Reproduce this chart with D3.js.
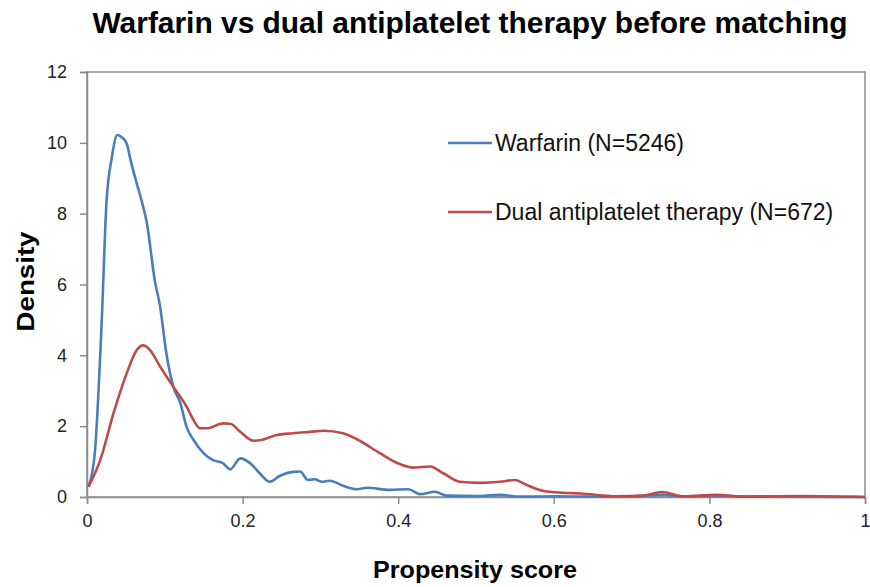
<!DOCTYPE html>
<html lang="en">
<head>
<meta charset="UTF-8">
<title>Warfarin vs dual antiplatelet therapy before matching</title>
<script src="https://cdn.jsdelivr.net/npm/d3@7"></script>
<style>
  html, body { margin: 0; padding: 0; background: #fff; }
  svg { display: block; font-family: Arial, "Liberation Sans", sans-serif; }
</style>
</head>
<body>
<svg id="chart" width="870" height="587"></svg>
<script>
// propensity score (x) for each series
const warfarinX = [0.002, 0.010, 0.019, 0.025, 0.032, 0.039, 0.045, 0.051, 0.057, 0.064, 0.070, 0.077, 0.087, 0.094,
  0.102, 0.111, 0.120, 0.128, 0.137, 0.150, 0.162, 0.175, 0.184, 0.197, 0.210, 0.222, 0.235, 0.248, 0.265, 0.274,
  0.284, 0.293, 0.302, 0.312, 0.330, 0.347, 0.360, 0.389, 0.413, 0.428, 0.447, 0.462, 0.505, 0.531, 0.557, 0.600,
  0.650, 0.700, 0.740, 0.770, 0.810, 0.850, 0.900, 1.000];
const warfarinY = [0.29, 1.23, 5.0, 8.3, 9.6, 10.22, 10.15, 9.98, 9.42, 8.85, 8.38, 7.73, 6.13, 5.37,
  4.06, 3.11, 2.65, 1.98, 1.61, 1.23, 1.04, 0.95, 0.78, 1.09, 0.95, 0.67, 0.43, 0.60, 0.71, 0.72,
  0.48, 0.50, 0.43, 0.46, 0.31, 0.22, 0.26, 0.20, 0.22, 0.08, 0.15, 0.04, 0.03, 0.06, 0.01, 0.02,
  0.01, 0.01, 0.06, 0.01, 0.04, 0.01, 0.01, 0.0];

const dualX = [0.002, 0.017, 0.034, 0.051, 0.064, 0.072, 0.081, 0.094, 0.111, 0.128, 0.137, 0.145, 0.154, 0.175,
  0.185, 0.197, 0.214, 0.222, 0.244, 0.265, 0.287, 0.304, 0.329, 0.347, 0.377, 0.402, 0.419, 0.441, 0.458,
  0.479, 0.505, 0.531, 0.550, 0.565, 0.587, 0.612, 0.634, 0.681, 0.717, 0.739, 0.767, 0.809, 0.843, 0.917, 1.000];
const dualY = [0.29, 1.04, 2.36, 3.49, 4.15, 4.28, 4.15, 3.68, 3.11, 2.55, 2.17, 1.94, 1.94, 2.08,
  2.06, 1.84, 1.59, 1.60, 1.75, 1.80, 1.84, 1.87, 1.80, 1.63, 1.23, 0.93, 0.83, 0.86, 0.67,
  0.43, 0.40, 0.43, 0.48, 0.34, 0.17, 0.12, 0.10, 0.02, 0.05, 0.14, 0.02, 0.06, 0.01, 0.03, 0.0];

const seriesNames = ['Warfarin (N=5246)', 'Dual antiplatelet therapy (N=672)'];
const seriesColors = ['#4a7ebb', '#be4b48'];

const xTicks = [0, 0.2, 0.4, 0.6, 0.8, 1];
const xTickLabels = ['0', '0.2', '0.4', '0.6', '0.8', '1'];
const yTicks = [0, 2, 4, 6, 8, 10, 12];

const svg = d3.select('#chart');
const margin = { left: 87, right: 5, top: 72, bottom: 90 };
const W = 870, H = 587;

const x = d3.scaleLinear().domain([0, 1]).range([margin.left, W - margin.right]);
const y = d3.scaleLinear().domain([0, 12]).range([H - margin.bottom, margin.top]);

const axisColor = '#8c8c8c';

// plot box (top + right)
svg.append('rect')
  .attr('x', x(0)).attr('y', y(12))
  .attr('width', x(1) - x(0)).attr('height', y(0) - y(12))
  .attr('fill', 'none').attr('stroke', axisColor).attr('stroke-width', 1.5);

// axes
const xAxis = svg.append('g')
  .attr('transform', `translate(0,${y(0)})`)
  .call(d3.axisBottom(x).tickValues(xTicks).tickFormat((d, i) => xTickLabels[i]).tickSize(7).tickPadding(10));

const yAxis = svg.append('g')
  .attr('transform', `translate(${x(0)},0)`)
  .call(d3.axisLeft(y).tickValues(yTicks).tickFormat(d3.format('d')).tickSize(7).tickPadding(13));

[xAxis, yAxis].forEach(a => {
  a.select('.domain').attr('stroke', axisColor).attr('stroke-width', 1.5);
  a.selectAll('.tick line').attr('stroke', axisColor).attr('stroke-width', 1.5);
  a.selectAll('.tick text')
    .attr('fill', '#222')
    .style('font-size', '18px')
    .style('font-family', 'Arial, "Liberation Sans", sans-serif');
});

// lines
const line = d3.line()
  .x(d => x(d[0]))
  .y(d => y(d[1]))
  .curve(d3.curveMonotoneX);

const series = [
  d3.zip(warfarinX, warfarinY),
  d3.zip(dualX, dualY)
];

series.forEach((s, i) => {
  svg.append('path')
    .datum(s)
    .attr('d', line)
    .attr('fill', 'none')
    .attr('stroke', seriesColors[i])
    .attr('stroke-width', 2.6)
    .attr('stroke-linejoin', 'round');
});

// legend
const legendY = [143, 212];
seriesNames.forEach((name, i) => {
  svg.append('line')
    .attr('x1', 448).attr('x2', 492)
    .attr('y1', legendY[i]).attr('y2', legendY[i])
    .attr('stroke', seriesColors[i]).attr('stroke-width', 2.6);
  svg.append('text')
    .attr('x', 495).attr('y', legendY[i] + 8)
    .style('font-size', '23px')
    .attr('fill', '#111')
    .text(name);
});

// title
svg.append('text')
  .attr('x', 470).attr('y', 33)
  .attr('text-anchor', 'middle')
  .attr('textLength', 755)
  .attr('lengthAdjust', 'spacingAndGlyphs')
  .style('font-size', '29px')
  .style('font-weight', 'bold')
  .attr('fill', '#000')
  .text('Warfarin vs dual antiplatelet therapy before matching');

// axis titles
svg.append('text')
  .attr('x', 475).attr('y', 578)
  .attr('text-anchor', 'middle')
  .attr('textLength', 204)
  .attr('lengthAdjust', 'spacingAndGlyphs')
  .style('font-size', '23px')
  .style('font-weight', 'bold')
  .attr('fill', '#000')
  .text('Propensity score');

svg.append('text')
  .attr('transform', `translate(34,${(y(0) + y(12)) / 2 - 3}) rotate(-90)`)
  .attr('text-anchor', 'middle')
  .attr('textLength', 100)
  .attr('lengthAdjust', 'spacingAndGlyphs')
  .style('font-size', '24px')
  .style('font-weight', 'bold')
  .attr('fill', '#000')
  .text('Density');
</script>
</body>
</html>
